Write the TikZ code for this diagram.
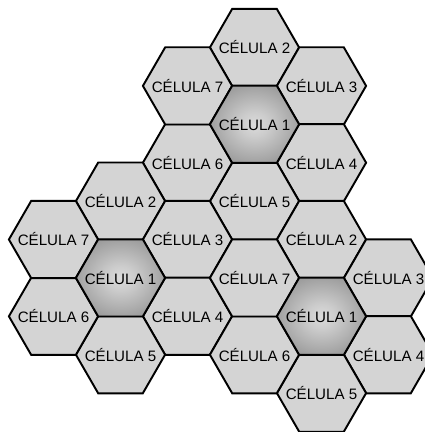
\documentclass[tikz,border=0pt]{standalone}
\usepackage{fontspec}
\setmainfont{Liberation Sans}
\usepackage{tikz}
\usetikzlibrary{shapes.geometric}

\pgfdeclareradialshading{hubshade}{\pgfpoint{0bp}{0bp}}{%
  color(0bp)=(black!14); color(8bp)=(black!20); color(28bp)=(black!40);
  color(50bp)=(black!56)}

% label that does not widen the hexagon
\newcommand{\celltext}[1]{\makebox[0pt]{CÉLULA #1}}

\tikzset{
  cell/.style={draw=black, line width=1.1pt, fill=black!17,
    regular polygon, regular polygon sides=6, inner sep=0pt,
    minimum size=1.784cm, font=\fontsize{8.6}{10}\selectfont},
  hub/.style={cell, shading=hubshade}
}

\begin{document}
\begin{tikzpicture}[x=0.02cm, y=-0.02cm]
    \clip (0,0) rectangle (425,432);
    \foreach \c/\cx/\cy in {t/254.5/124.3, l/120.5/277.9, r/321.5/316.3} {
      \node[cell] (\c2) at (\cx,\cy-76.8) {\celltext{2}};
      \node[cell] (\c3) at (\cx+67,\cy-38.4) {\celltext{3}};
      \node[cell] (\c4) at (\cx+67,\cy+38.4) {\celltext{4}};
      \node[cell] (\c5) at (\cx,\cy+76.8) {\celltext{5}};
      \node[cell] (\c6) at (\cx-67,\cy+38.4) {\celltext{6}};
      \node[cell] (\c7) at (\cx-67,\cy-38.4) {\celltext{7}};
      \node[hub] (\c1) at (\cx,\cy) {\celltext{1}};
    }
  \end{tikzpicture}
\end{document}
